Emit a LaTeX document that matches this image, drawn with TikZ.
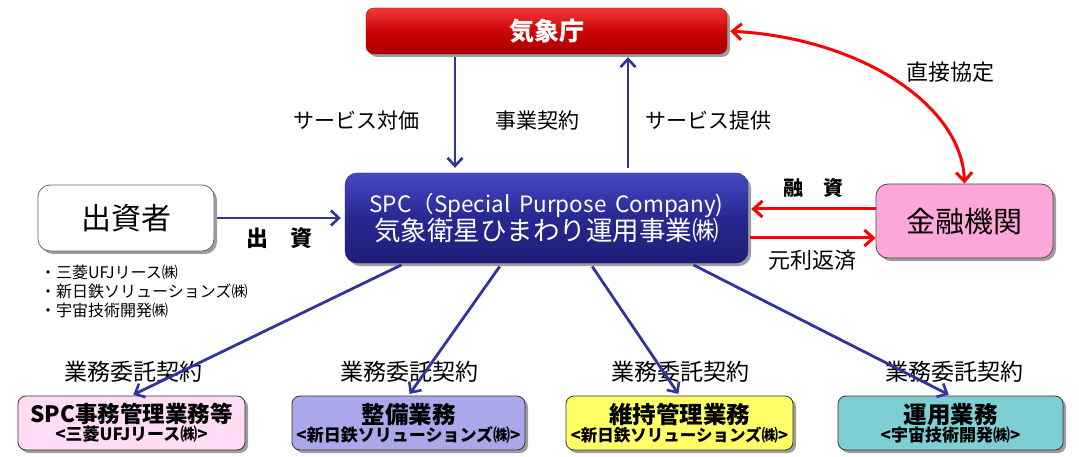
\documentclass[tikz,border=0pt]{standalone}
\usepackage{fontspec}
\setmainfont{Noto Sans CJK JP}
\usetikzlibrary{arrows.meta,shadows}
\definecolor{arblue}{HTML}{33339C}
\definecolor{arred}{HTML}{FF0000}
\definecolor{redtop}{HTML}{F03A3A}
\definecolor{redmid}{HTML}{CC0505}
\definecolor{redbot}{HTML}{A80000}
\definecolor{bluetop}{HTML}{4848C8}
\definecolor{bluemid}{HTML}{282890}
\definecolor{bluebot}{HTML}{1E1E78}
\definecolor{pinkfin}{HTML}{FFA6DA}
\definecolor{pinklt}{HTML}{FFDDF6}
\definecolor{lavender}{HTML}{A8A8EA}
\definecolor{yellowbx}{HTML}{FFFF66}
\definecolor{tealbx}{HTML}{7ECFD4}
\begin{document}
\begin{tikzpicture}[x=1pt,y=-1pt,
  bx/.style={rounded corners=8pt, align=center, inner sep=0pt, draw,
    drop shadow={shadow xshift=3pt, shadow yshift=-3pt, fill=black!55, opacity=0.7}},
  botbox/.style={bx, minimum height=54pt, draw=black!80, line width=0.8pt},
  barrow/.style={draw=arblue, line width=2.8pt, -{Straight Barb[length=8pt,width=15pt,line width=2.6pt]}},
  rarrow/.style={draw=arred, line width=3pt, -{Straight Barb[length=9pt,width=16pt,line width=3pt]}},
  lbl/.style={font=\fontsize{21}{24}\selectfont, inner sep=0pt, text=black},
  glbl/.style={font=\fontsize{23}{26}\selectfont, inner sep=0pt, text=black},
]
\useasboundingbox (0,0) rectangle (1079,457);

% main boxes
\node[bx, draw=redbot, top color=redtop, bottom color=redbot, middle color=redmid,
  minimum width=361pt, minimum height=46pt, text=white,
  font=\bfseries\fontsize{25}{28}\selectfont] (kisho) at (546.5,31) {気象庁};

\node[bx, rounded corners=12pt, draw=bluebot, top color=bluetop, bottom color=bluebot, middle color=bluemid,
  minimum width=403pt, minimum height=90pt, text=white] (spc) at (546.5,218)
  {{\fontsize{22.5}{26}\selectfont SPC（Special\ \,Purpose\ \,Company)}\\[0pt]
   {\fontsize{26.5}{29}\selectfont 気象衛星ひまわり運用事業㈱}};

\node[bx, rounded corners=12pt, draw=black!60, fill=white, line width=0.8pt,
  minimum width=176pt, minimum height=66pt,
  font=\fontsize{30}{32}\selectfont] (shussi) at (126,218) {出資者};

\node[bx, rounded corners=12pt, draw=black!70, fill=pinkfin, line width=0.8pt,
  minimum width=177pt, minimum height=74pt,
  font=\fontsize{29}{32}\selectfont] (kinyu) at (964.5,221) {金融機関};

% bottom boxes
\node[botbox, fill=pinklt, minimum width=227pt] (b1) at (131.5,423)
  {{\bfseries\fontsize{22.5}{25}\selectfont SPC事務管理業務等}\\[0pt]{\bfseries\fontsize{17}{19}\selectfont <三菱UFJリース㈱>}};
\node[botbox, fill=lavender, minimum width=233pt] (b2) at (408.5,423)
  {{\bfseries\fontsize{23.5}{25}\selectfont 整備業務}\\[0pt]{\bfseries\fontsize{17}{19}\selectfont <新日鉄ソリューションズ㈱>}};
\node[botbox, fill=yellowbx, minimum width=227pt] (b3) at (679.5,423)
  {{\bfseries\fontsize{23.5}{25}\selectfont 維持管理業務}\\[0pt]{\bfseries\fontsize{16.5}{19}\selectfont <新日鉄ソリューションズ㈱>}};
\node[botbox, fill=tealbx, minimum width=225pt] (b4) at (950.5,423)
  {{\bfseries\fontsize{23.5}{25}\selectfont 運用業務}\\[0pt]{\bfseries\fontsize{17}{19}\selectfont <宇宙技術開発㈱>}};

% labels
\node[lbl] (l1) at (356,121) {サービス対価};
\node[lbl] (l2) at (537,121) {事業契約};
\node[lbl] (l3) at (708,121) {サービス提供};
\node[lbl, font=\fontsize{22}{24}\selectfont] (l4) at (950,72) {直接協定};
\node[lbl, font=\bfseries\fontsize{20}{22}\selectfont] (l5) at (813,188) {融\hspace{1em}資};
\node[lbl, font=\fontsize{22}{24}\selectfont] (l6) at (812,260) {元利返済};
\node[lbl, font=\bfseries\fontsize{22}{24}\selectfont] (l7) at (279,238) {出\hspace{1em}資};
\node[glbl] (g1) at (133,372) {業務委託契約};
\node[glbl] (g2) at (409,372) {業務委託契約};
\node[glbl] (g3) at (680,372) {業務委託契約};
\node[glbl] (g4) at (954,372) {業務委託契約};

\node[anchor=north west, align=left, inner sep=0pt, font=\fontsize{16}{19}\selectfont] (list) at (40,265)
  {・三菱UFJリース㈱\\・新日鉄ソリューションズ㈱\\・宇宙技術開発㈱};

% arrows
\draw[barrow, shorten <=3pt, shorten >=5pt] ([xshift=-91.5pt]kisho.south) -- ([xshift=-91.5pt]spc.north);
\draw[barrow, shorten <=5pt, shorten >=3pt] ([xshift=81.5pt]spc.north) -- ([xshift=81.5pt]kisho.south);
\draw[barrow, shorten <=3pt, shorten >=4pt] (shussi.east) -- (shussi.east -| spc.west);

\draw[rarrow, shorten >=3pt] ([yshift=12pt]kinyu.west) -- ([yshift=12pt]kinyu.west -| spc.east);
\draw[rarrow, shorten <=2pt] ([yshift=-17pt]kinyu.west -| spc.east) -- ([yshift=-17pt]kinyu.west);
\draw[draw=arred, line width=3pt, {Straight Barb[length=9pt,width=16pt,line width=3pt]}-{Straight Barb[length=9pt,width=16pt,line width=3pt]}, shorten <=3pt]
  (kisho.east) .. controls (860,38) and (962,105) .. (kinyu.north);

\draw[barrow, shorten <=4pt, shorten >=2pt] ([xshift=-141.5pt]spc.south) -- (b1.north);
\draw[barrow, shorten <=4pt, shorten >=2pt] ([xshift=-44.5pt]spc.south) -- (b2.north);
\draw[barrow, shorten <=4pt, shorten >=2pt] ([xshift=43.5pt]spc.south) -- (b3.north);
\draw[barrow, shorten <=4pt, shorten >=2pt] ([xshift=143.5pt]spc.south) -- (b4.north);
\end{tikzpicture}
\end{document}
